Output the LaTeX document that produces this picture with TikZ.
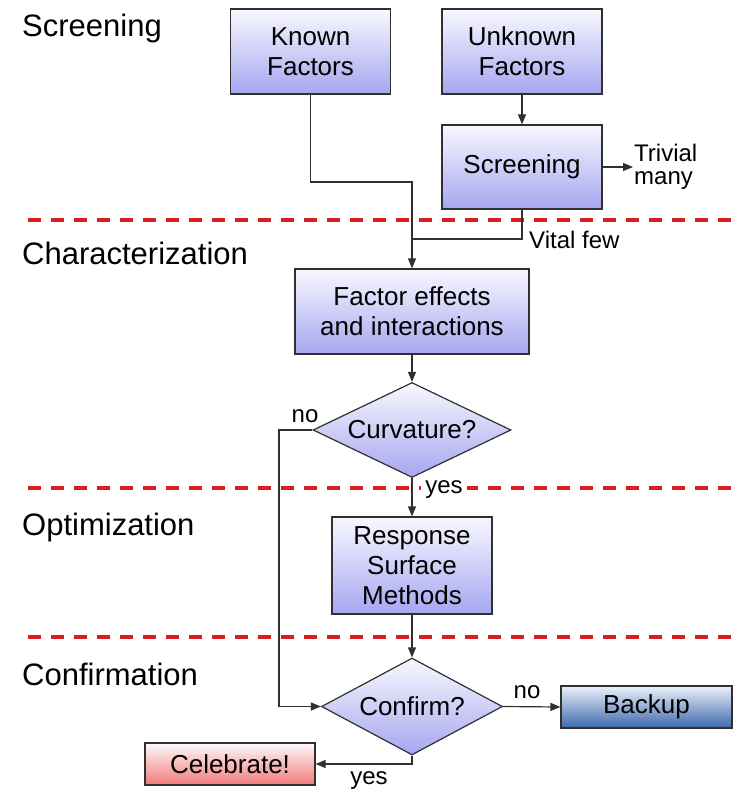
\documentclass[tikz,border=0pt]{standalone}
\usepackage{fontspec}
\setmainfont{Liberation Sans}
\usetikzlibrary{shapes.geometric,arrows.meta}

\definecolor{boxtop}{RGB}{248,248,255}
\definecolor{boxbot}{RGB}{166,166,240}
\definecolor{backtop}{RGB}{236,241,250}
\definecolor{backbot}{RGB}{62,104,172}
\definecolor{celtop}{RGB}{255,250,250}
\definecolor{celbot}{RGB}{240,122,122}
\definecolor{linegray}{RGB}{48,48,48}
\definecolor{dashred}{RGB}{218,30,30}

\begin{document}
\begin{tikzpicture}[x=1pt,y=-1pt,
  procbox/.style={draw=linegray, line width=1.2pt, top color=boxtop, bottom color=boxbot,
    minimum width=160pt, minimum height=85pt, inner sep=0pt, align=center,
    font=\fontsize{26}{30}\selectfont},
  decision/.style={diamond, aspect=2, draw=linegray, line width=1.2pt,
    top color=boxtop, bottom color=boxbot, inner sep=0pt,
    font=\fontsize{26}{30}\selectfont},
  endbox/.style={draw=linegray, line width=1.2pt, minimum height=42pt, inner sep=0pt,
    font=\fontsize{26}{30}\selectfont},
  phase/.style={anchor=base west, inner sep=0pt, font=\fontsize{31}{36}\selectfont},
  lbl/.style={inner sep=1pt, font=\fontsize{24}{23}\selectfont},
  link/.style={draw=linegray, line width=1.2pt},
  flow/.style={link, -{Triangle[length=10pt,width=8pt]}},
  divider/.style={draw=dashred, line width=3.5pt, dash pattern=on 13pt off 10pt}
]
\useasboundingbox (0,0) rectangle (734,791);

% phase dividers
\draw[divider] (28,220) -- (734,220);
\draw[divider] (28,488) -- (734,488);
\draw[divider] (28,637) -- (734,637);

% phase titles
\node[phase] (tScreen) at (22,37) {Screening};
\node[phase] (tChar) at (22,265) {Characterization};
\node[phase] (tOpt) at (22,535) {Optimization};
\node[phase] (tConf) at (22,685) {Confirmation};

% process steps
\node[procbox] (known) at (310.5,51.5) {Known\\Factors};
\node[procbox] (unknown) at (522,51.5) {Unknown\\Factors};
\node[procbox, minimum height=84pt] (screen) at (522,167) {Screening};
\node[procbox, minimum width=234pt] (factor) at (412,311.5) {Factor effects\\and interactions};
\node[decision, minimum width=198pt, minimum height=95pt] (curv) at (412,430) {Curvature?};
\node[procbox, minimum height=97pt] (rsm) at (412,565.5) {Response\\Surface\\Methods};
\node[decision, minimum width=181pt, minimum height=97pt] (confirm) at (412,706.5) {Confirm?};
\node[endbox, minimum width=171pt, top color=backtop, bottom color=backbot] (backup) at (646.5,707) {Backup};
\node[endbox, minimum width=170pt, top color=celtop, bottom color=celbot] (celebrate) at (230,764) {Celebrate!};

% side labels
\node[lbl, anchor=west, align=left] (trivial) at (633,167) {Trivial\\many};
\node[lbl, anchor=base west] (vital) at (528,248) {Vital few};

% connectors
\coordinate (knownjoin) at (412,182);
\coordinate (vitaljoin) at (412,239);
\coordinate (nocorner) at (279,430);

\draw[flow] (known.south) |- (knownjoin) -- (factor.north);
\draw[link] (screen.south) |- (vitaljoin);
\draw[flow] (unknown.south) -- (screen.north);
\draw[flow] (screen.east) -- (screen.east -| trivial.west);
\draw[flow] (factor.south) -- (curv.north);
\draw[flow] (curv.west) -- (nocorner) |- (confirm.west);
\draw[flow] (curv.south) -- (rsm.north);
\draw[flow] (rsm.south) -- (confirm.north);
\draw[flow] (confirm.east) -- (backup.west);
\draw[flow] (confirm.south) |- (celebrate.east);

% branch labels
\node[lbl] (curvno) at (305,416) {no};
\node[lbl, fill=white, inner xsep=4pt] (curvyes) at (444,490) {yes};
\node[lbl] (confno) at (527,692) {no};
\node[lbl] (confyes) at (369,781) {yes};
\end{tikzpicture}
\end{document}
